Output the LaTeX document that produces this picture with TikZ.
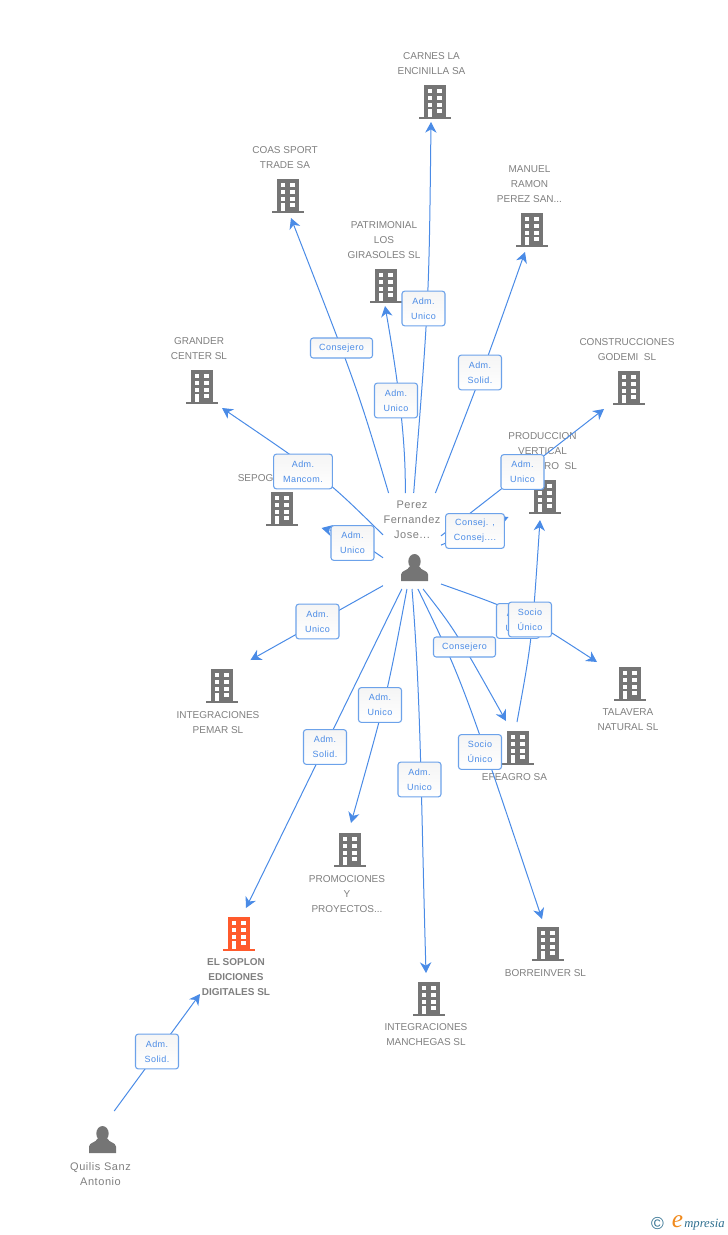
\documentclass[tikz,border=0pt]{standalone}
\usepackage{fontspec}
\setmainfont{Liberation Sans}
\newfontfamily\tagfont[LetterSpace=5]{Liberation Sans}
\newfontfamily\logofont{Liberation Serif}
\usetikzlibrary{arrows.meta}
\definecolor{iconGray}{HTML}{757575}
\definecolor{iconOrange}{HTML}{FF5A2C}
\definecolor{textGray}{HTML}{7F7F7F}
\definecolor{linkBlue}{HTML}{4A8BE6}
\definecolor{tagBorder}{HTML}{6CA2EA}
\definecolor{logoBlue}{HTML}{2F6F8F}
\definecolor{logoOrange}{HTML}{F08A1D}
\tikzset{
	building/.style={minimum width=24pt, minimum height=25.5pt, inner sep=0pt, outer sep=0pt,
		path picture={
			\begin{scope}[shift={(path picture bounding box.center)}]
				\fill [#1] (-11,-17) rectangle (11,14.5);
				\fill [#1] (-16,14.5) rectangle (16,17);
				\foreach \wy in {-12.7,-6,0.7} {
					\fill [white] (-7.3,\wy) rectangle (-2.7,\wy+4);
					\fill [white] (2.3,\wy) rectangle (7,\wy+4);
				}
				\fill [white] (-7.3,6.7) rectangle (-2.7,14.5);
				\fill [white] (2.3,6.7) rectangle (7,11.3);
			\end{scope}
		}},
	person/.style={minimum width=21pt, minimum height=21pt, inner sep=0pt, outer sep=0pt,
		path picture={
			\begin{scope}[shift={(path picture bounding box.center)}]
				\fill [iconGray] (0,-6) ellipse (6.2 and 7.5);
				\fill [iconGray] (-13.5,13.5) -- (-13.5,7) .. controls (-13.5,3) and (-6,3) .. (-5,-1)
					-- (5,-1) .. controls (6,3) and (13.5,3) .. (13.5,7) -- (13.5,13.5) -- cycle;
			\end{scope}
		}},
	hubbox/.style={minimum width=43.5pt, inner sep=0pt, outer sep=0pt},
	txt/.style={align=center, text=textGray, inner sep=0pt,
		font=\fontsize{7.5pt}{11.25pt}\selectfont},
	nametxt/.style={align=center, text=textGray, inner sep=0pt,
		font=\tagfont\fontsize{8.25pt}{11.25pt}\selectfont},
	link/.style={draw=linkBlue, line width=0.75pt, -{Stealth[length=8pt,width=8.5pt,inset=2.5pt]}},
	tagbox/.style={draw=tagBorder, line width=0.8pt, rounded corners=2pt, top color=black!4, bottom color=white,
		align=center, text=linkBlue, inner sep=0pt, outer sep=0pt, minimum width=32.25pt, minimum height=26pt,
		font=\tagfont\fontsize{6.75pt}{11.25pt}\selectfont},
	tagwide/.style={tagbox, minimum width=44pt},
	tagflat/.style={tagbox, minimum width=46.5pt, minimum height=15pt}
}

\begin{document}
\begin{tikzpicture}[x=0.75pt,y=-0.75pt]
	\useasboundingbox (0,0) rectangle (728,1235);

	\node [txt] (carnesTxt) at (431.5,63.5) {CARNES LA\\ENCINILLA SA};
	\node [txt] (coasTxt) at (285,157.5) {COAS SPORT\\TRADE SA};
	\node [txt] (patrimonialTxt) at (384,240) {PATRIMONIAL\\LOS\\GIRASOLES SL};
	\node [txt] (manuelTxt) at (529.5,184) {MANUEL\\RAMON\\PEREZ SAN...};
	\node [txt] (godemiTxt) at (627,349.5) {CONSTRUCCIONES\\GODEMI\ \ SL};
	\node [txt] (granderTxt) at (199,348.5) {GRANDER\\CENTER SL};
	\node [txt, anchor=west] (sepogTxt) at (237.5,478) {SEPOG};
	\node [txt] (produccionTxt) at (542.5,451) {PRODUCCION\\VERTICAL\\\hspace{27pt}RO\ \ SL};
	\node [txt] (pemarTxt) at (218,722.5) {INTEGRACIONES\\PEMAR SL};
	\node [txt] (talaveraTxt) at (628,720) {TALAVERA\\NATURAL SL};
	\node [txt] (efeagroTxt) at (514.5,777) {EFEAGRO SA};
	\node [txt] (promocionesTxt) at (347,894) {PROMOCIONES\\Y\\PROYECTOS...};
	\node [txt, font=\fontsize{7.5pt}{11.25pt}\selectfont\bfseries] (soplonTxt) at (236,977.5) {EL SOPLON\\EDICIONES\\DIGITALES SL};
	\node [txt] (manchegasTxt) at (426,1035) {INTEGRACIONES\\MANCHEGAS SL};
	\node [txt] (borreinverTxt) at (545.5,973) {BORREINVER SL};
	\node [nametxt] (perezTxt) at (412,520) {Perez\\Fernandez\\Jose...};
	\node [nametxt] (quilisTxt) at (100.5,1174) {Quilis Sanz\\Antonio};

	\node [building=iconGray] (carnes) at (435,102) {};
	\node [building=iconGray] (coas) at (288,196) {};
	\node [building=iconGray] (patrimonial) at (386,286) {};
	\node [building=iconGray] (manuel) at (532,230) {};
	\node [building=iconGray] (godemi) at (629,388) {};
	\node [building=iconGray] (grander) at (202,387) {};
	\node [building=iconGray] (sepog) at (282,509) {};
	\node [building=iconGray] (produccion) at (545,497) {};
	\node [building=iconGray] (pemar) at (222,686) {};
	\node [building=iconGray] (talavera) at (630,684) {};
	\node [building=iconGray] (efeagro) at (518,748) {};
	\node [building=iconGray] (promociones) at (350,850) {};
	\node [building=iconOrange] (soplon) at (239,934) {};
	\node [building=iconGray] (manchegas) at (429,999) {};
	\node [building=iconGray] (borreinver) at (548,944) {};
	\node [person] (perezIcon) at (414.5,567.5) {};
	\node [person] (quilisIcon) at (102.5,1139.5) {};

	\node [hubbox, minimum height=72pt] (perez) at (412,541) {};
	\node [hubbox, minimum height=43.5pt] (quilis) at (102.5,1140) {};

	\coordinate (carnesTip) at (431,122);
	\coordinate (coasTip) at (291,218);
	\coordinate (patrimonialTip) at (385,306);
	\coordinate (manuelTip) at (525,252);
	\coordinate (godemiTip) at (604,409);
	\coordinate (granderTip) at (222,408);
	\coordinate (sepogTip) at (321.5,528);
	\coordinate (produccionTip) at (508.5,517);
	\coordinate (produccionIn) at (540,520);
	\coordinate (pemarTip) at (250.5,660);
	\coordinate (talaveraTip) at (597,662);
	\coordinate (efeagroTip) at (506,721);
	\coordinate (efeagroOut) at (517,722);
	\coordinate (promocionesTip) at (351,823);
	\coordinate (soplonTip) at (246,908);
	\coordinate (soplonIn) at (200,994);
	\coordinate (manchegasTip) at (426,973);
	\coordinate (borreinverTip) at (542,919);

	\draw [link] (perez.88) .. controls (429,300) .. (carnesTip);
	\draw [link] (perez.116) .. controls (358,390) .. (coasTip);
	\draw [link] (perez.98) .. controls (406,440) and (398,380) .. (patrimonialTip);
	\draw [link] (perez.64) .. controls (484,368) .. (manuelTip);
	\draw [link] (perez.10) -- (godemiTip);
	\draw [link] (perez.168) .. controls (325,478) .. (granderTip);
	\draw [link] (perez.210) .. controls (350,535) .. (sepogTip);
	\draw [link] (perez.352) -- (produccionTip);
	\draw [link] (perez.237) -- (pemarTip);
	\draw [link] (perez.304) .. controls (520,612) .. (talaveraTip);
	\draw [link] (perez.283) .. controls (455,630) .. (efeagroTip);
	\draw [link] (perez.264) .. controls (387,695) .. (promocionesTip);
	\draw [link] (perez.258) -- (soplonTip);
	\draw [link] (perez.270) .. controls (421,700) and (421,800) .. (manchegasTip);
	\draw [link] (perez.277) .. controls (462,680) .. (borreinverTip);
	\draw [link] (efeagroOut) .. controls (532,640) .. (produccionIn);
	\draw [link] (quilis.68) -- (soplonIn);

	\node [tagbox] (tagCarnes) at (423.5,308.5) {Adm.\\Unico};
	\node [tagflat] (tagCoas) at (341.5,348) {Consejero};
	\node [tagbox] (tagPatrimonial) at (396,400.5) {Adm.\\Unico};
	\node [tagbox] (tagManuel) at (480,372.5) {Adm.\\Solid.};
	\node [tagbox] (tagGodemi) at (522.5,472) {Adm.\\Unico};
	\node [tagwide] (tagGrander) at (303,471.5) {Adm.\\Mancom.};
	\node [tagbox] (tagSepog) at (352.5,543) {Adm.\\Unico};
	\node [tagwide] (tagProduccion) at (475,531) {Consej. ,\\Consej....};
	\node [tagbox] (tagPemar) at (317.5,621.5) {Adm.\\Unico};
	\node [tagbox] (tagTalavera) at (518,621) {Adm.\\Unico};
	\node [tagbox] (tagSocio) at (530,619.5) {Socio\\Único};
	\node [tagflat] (tagEfeagro) at (464.5,647) {Consejero};
	\node [tagbox] (tagPromociones) at (380,705) {Adm.\\Unico};
	\node [tagbox] (tagSoplon) at (325,747) {Adm.\\Solid.};
	\node [tagbox] (tagBorreinver) at (480,752) {Socio\\Único};
	\node [tagbox] (tagManchegas) at (419.5,779.5) {Adm.\\Unico};
	\node [tagbox] (tagQuilis) at (157,1051.5) {Adm.\\Solid.};

	\node [text=logoBlue, inner sep=0pt, font=\fontsize{13pt}{13pt}\selectfont] (logoMark) at (657.5,1224) {©};
	\node [text=logoOrange, inner sep=0pt, font=\logofont\itshape\fontsize{19pt}{19pt}\selectfont] (logoE) at (677.5,1222) {e};
	\node [text=logoBlue, inner sep=0pt, anchor=west, font=\logofont\itshape\fontsize{9.5pt}{9.5pt}\selectfont] (logoName) at (684,1225) {mpresia};
\end{tikzpicture}
\end{document}
